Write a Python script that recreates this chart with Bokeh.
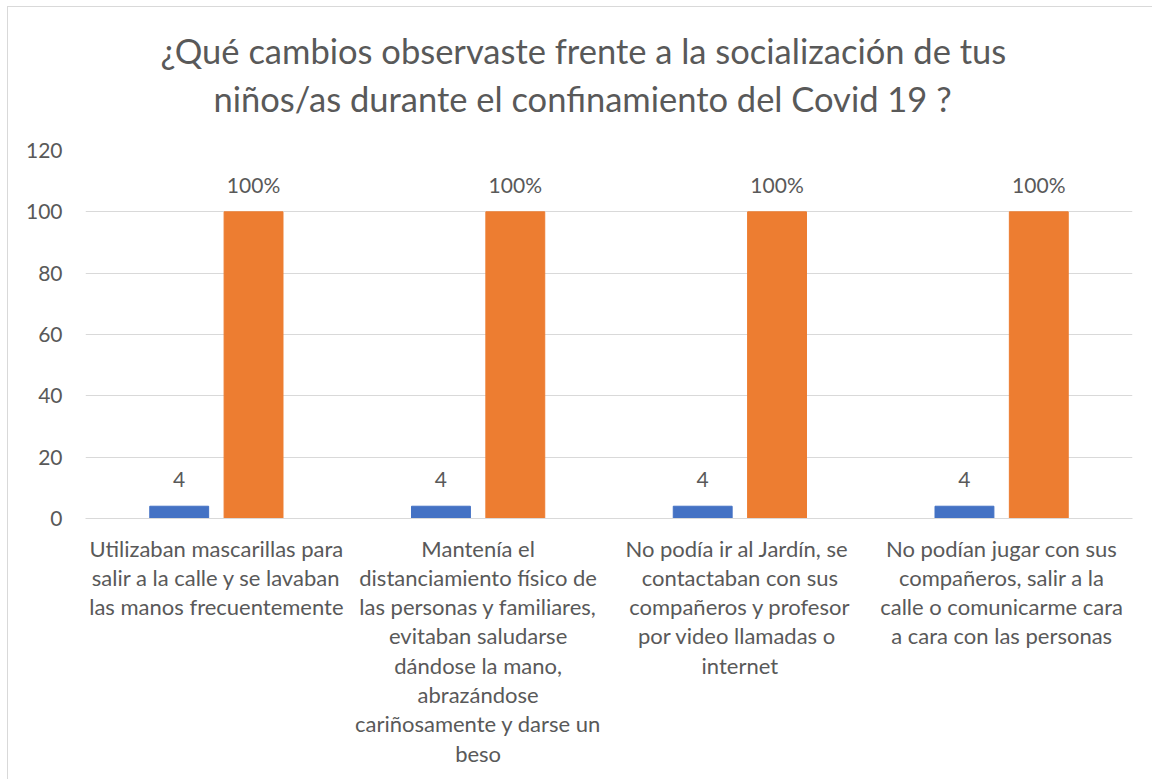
from bokeh.plotting import figure
from bokeh.models import Range1d, FixedTicker, ColumnDataSource, LabelSet, Title
from bokeh.core.properties import value
from bokeh.embed import file_html
from bokeh.resources import INLINE

title_lines = [
    "¿Qué cambios observaste frente a la socialización de tus",
    "niños/as  durante el confinamiento del Covid 19 ?",
]
categories = [
    "Utilizaban mascarillas para\nsalir a la calle y se lavaban\nlas manos frecuentemente",
    "Mantenía el\ndistanciamiento físico de\nlas personas y familiares,\nevitaban saludarse\ndándose la mano,\nabrazándose\ncariñosamente y darse un\nbeso",
    "No podía ir al Jardín,  se\ncontactaban con sus\ncompañeros y profesor\npor video llamadas  o\ninternet",
    "No podían jugar con sus\ncompañeros, salir a la\ncalle o comunicarme cara\na cara con las personas",
]
series_count = [4, 4, 4, 4]
series_pct = [100, 100, 100, 100]
count_labels = ["4", "4", "4", "4"]
pct_labels = ["100%", "100%", "100%", "100%"]
y_ticks = [0, 20, 40, 60, 80, 100, 120]

FONT = "Lato"
TXT = "#595959"

centers = [i + 0.5 for i in range(len(categories))]
src_a = ColumnDataSource(dict(x=[c - 0.142 for c in centers], top=series_count, lab=count_labels))
src_b = ColumnDataSource(dict(x=[c + 0.142 for c in centers], top=series_pct, lab=pct_labels))

p = figure(width=1145, height=773, output_backend="svg", toolbar_location=None,
           x_range=Range1d(0, 4), y_range=Range1d(0, 120),
           min_border_left=77, min_border_right=21, min_border_top=143, min_border_bottom=262)

# outermost: first title line
p.title.text = title_lines[0]
p.title.align = "left"
p.title.offset = 75
p.title.text_font = FONT
p.title.text_font_size = "34.5px"
p.title.text_font_style = "normal"
p.title.text_color = TXT
p.title.standoff = 7

# spacer between frame and second title line
spacer = Title(text=" ", text_font_size="1px", standoff=28)
p.add_layout(spacer, "above")
t2 = Title(text=title_lines[1], align="left", offset=128, text_font=FONT,
           text_font_size="34.5px", text_font_style="normal", text_color=TXT, standoff=2)
p.add_layout(t2, "above")

p.vbar(x="x", top="top", width=0.225, source=src_a, color="#4472C4")
p.vbar(x="x", top="top", width=0.225, source=src_b, color="#ED7D31")

for src in (src_a, src_b):
    p.add_layout(LabelSet(x="x", y="top", text="lab", source=src, text_align="center",
                          text_baseline="middle", y_offset=27, text_font=value(FONT),
                          text_font_size="21px", text_color=TXT))

p.xaxis.ticker = FixedTicker(ticks=centers)
p.xaxis.major_label_overrides = {c: lab for c, lab in zip(centers, categories)}
p.xaxis.major_label_text_font = FONT
p.xaxis.major_label_text_font_size = "22px"
p.xaxis.major_label_text_color = TXT
p.xaxis.major_label_text_line_height = 1.085
p.xaxis.major_tick_out = 0
p.xaxis.major_tick_in = 0
p.xaxis.major_label_standoff = 16
p.xaxis.axis_line_color = "#d9d9d9"
p.xaxis.major_tick_line_color = None
p.xaxis.minor_tick_line_color = None

p.yaxis.ticker = FixedTicker(ticks=y_ticks)
p.yaxis.major_label_text_font = FONT
p.yaxis.major_label_text_font_size = "21px"
p.yaxis.major_label_text_color = TXT
p.yaxis.major_tick_out = 0
p.yaxis.major_tick_in = 0
p.yaxis.major_label_standoff = 23
p.yaxis.axis_line_color = None
p.yaxis.major_tick_line_color = None
p.yaxis.minor_tick_line_color = None

p.xgrid.grid_line_color = None
p.ygrid.ticker = FixedTicker(ticks=y_ticks)
p.ygrid.grid_line_color = "#d9d9d9"
p.ygrid.grid_line_width = 1

p.outline_line_color = None
p.background_fill_color = "white"
p.border_fill_color = "white"
p.styles = {"margin-left": "7px", "margin-top": "6px",
            "border-top": "1px solid #d9d9d9", "border-left": "1px solid #d9d9d9"}

open("out.html", "w").write(file_html(p, INLINE))
